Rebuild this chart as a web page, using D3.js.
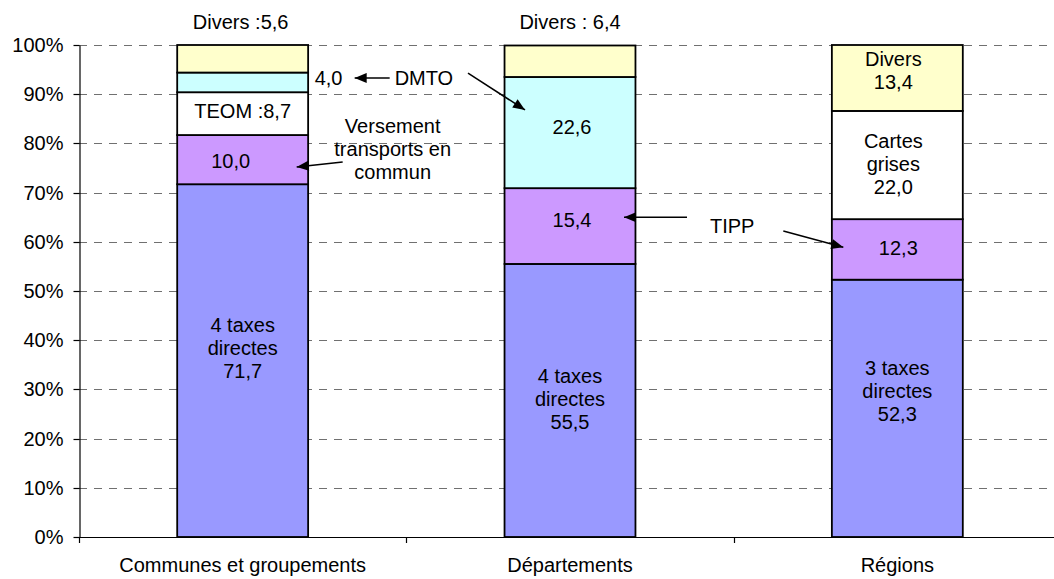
<!DOCTYPE html>
<html>
<head>
<meta charset="utf-8">
<script src="https://cdn.jsdelivr.net/npm/d3@7"></script>
<style>
html,body{margin:0;padding:0;background:#fff;}
svg{display:block;font-family:"Liberation Sans",Arial,sans-serif;}
</style>
</head>
<body>
<svg id="chart" width="1054" height="579"></svg>
<script>
// ---- Data ----
const categories = ["Communes et groupements", "Départements", "Régions"];
const taxesDirectes = [71.7, 55.5, 52.3];
const versementTipp = [10.0, 15.4, 12.3];
const teomCartes = [8.7, 0, 22.0];
const dmto = [4.0, 22.6, 0];
const divers = [5.6, 6.4, 13.4];
const yTickValues = [0, 10, 20, 30, 40, 50, 60, 70, 80, 90, 100];
const seriesNames = ["taxes", "versement", "teom", "dmto", "divers"];

// ---- Styles ----
const colors = {taxes: "#9999FF", versement: "#CC99FF", teom: "#FFFFFF", dmto: "#CCFFFF", divers: "#FFFFCC"};
const FONT = 20;

const svg = d3.select("#chart");
const W = 1054, H = 579;
const x = d3.scaleBand().domain(categories).range([79, 1061]).paddingInner(0.6).paddingOuter(0.3);
const y = d3.scaleLinear().domain([0, 100]).range([537, 45]);
const cx = i => x(categories[i]) + x.bandwidth() / 2;
const crisp = v => Math.round(v) + 0.5;

// gridlines
svg.append("g").selectAll("line").data(yTickValues.filter(v => v > 0)).join("line")
  .attr("x1", 79).attr("x2", W).attr("y1", d => crisp(y(d))).attr("y2", d => crisp(y(d)))
  .attr("stroke", "#707070").attr("stroke-width", 1).attr("stroke-dasharray", "8,7");

// stacked bars
const table = categories.map((c, i) => ({cat: c, taxes: taxesDirectes[i], versement: versementTipp[i], teom: teomCartes[i], dmto: dmto[i], divers: divers[i]}));
const stacked = d3.stack().keys(seriesNames)(table);
const gBars = svg.append("g");
stacked.forEach(layer => {
  gBars.selectAll(null).data(layer.filter(d => d[1] - d[0] > 0)).join("rect")
    .attr("x", d => x(d.data.cat)).attr("width", x.bandwidth())
    .attr("y", d => y(d[1])).attr("height", d => y(d[0]) - y(d[1]))
    .attr("fill", colors[layer.key]).attr("stroke", "#000").attr("stroke-width", 1.8);
});

// y axis
const yAxis = d3.axisLeft(y).tickValues(yTickValues).tickFormat(d => d + "%").tickSize(6).tickSizeOuter(0);
const gy = svg.append("g").attr("transform", "translate(79.5,0)").call(yAxis);
gy.select(".domain").attr("stroke", "#000").attr("stroke-width", 1.2);
gy.selectAll(".tick").attr("transform", d => `translate(0,${crisp(y(d))})`);
gy.selectAll(".tick line").attr("stroke", "#000").attr("stroke-width", 1.2);
gy.selectAll(".tick text").attr("font-size", FONT).attr("fill", "#000").attr("x", -16).attr("font-family", "Liberation Sans, Arial, sans-serif");

// x axis
svg.append("line").attr("x1", 79).attr("x2", W).attr("y1", crisp(y(0))).attr("y2", crisp(y(0))).attr("stroke", "#000").attr("stroke-width", 1.2);
const step = x.step();
const boundaries = [0, 1, 2, 3].map(k => 79 + k * step);
svg.append("g").selectAll("line").data(boundaries).join("line")
  .attr("x1", d => crisp(d)).attr("x2", d => crisp(d)).attr("y1", y(0)).attr("y2", y(0) + 6)
  .attr("stroke", "#000").attr("stroke-width", 1.2);
svg.append("g").selectAll("text").data(categories).join("text")
  .attr("x", (d, i) => cx(i)).attr("y", 572).attr("text-anchor", "middle")
  .attr("font-size", FONT).attr("fill", "#000").text(d => d);

// labels: [catIndex, dx, pct (first baseline), anchor, lines]
const labels = [
  [0, 0, 41.7, "middle", ["4 taxes", "directes", "71,7"]],
  [1, 0, 31.3, "middle", ["4 taxes", "directes", "55,5"]],
  [2, 0, 32.9, "middle", ["3 taxes", "directes", "52,3"]],
  [0, -12, 75.0, "middle", ["10,0"]],
  [0, 0, 85.2, "middle", ["TEOM :8,7"]],
  [0, 72, 91.9, "start", ["4,0"]],
  [0, 152, 91.9, "start", ["DMTO"]],
  [0, -2, 103.3, "middle", ["Divers :5,6"]],
  [1, 0, 103.3, "middle", ["Divers : 6,4"]],
  [1, 2, 81.9, "middle", ["22,6"]],
  [1, 2, 63.0, "middle", ["15,4"]],
  [1, 140, 61.8, "start", ["TIPP"]],
  [2, 1, 57.3, "middle", ["12,3"]],
  [2, -4, 95.7, "middle", ["Divers", "13,4"]],
  [2, -4, 79.1, "middle", ["Cartes", "grises", "22,0"]],
  [0, 150, 82.1, "middle", ["Versement", "transports en", "commun"]]
];
const gLab = svg.append("g");
labels.forEach(([ci, dx, pct, anchor, lines]) => {
  const t = gLab.append("text").attr("text-anchor", anchor).attr("font-size", FONT).attr("fill", "#000");
  lines.forEach((ln, k) => {
    t.append("tspan").attr("x", cx(ci) + dx).attr("y", y(pct) + k * 23).text(ln);
  });
});

// arrows: [catIndex, dx1, pct1, dx2, pct2] (arrowhead at point 2)
const arrows = [
  [0, 147, 93.3, 112, 93.3],
  [1, -102, 94.3, -45, 86.8],
  [0, 100, 76.2, 54, 75.2],
  [1, 117, 65.0, 54, 65.0],
  [2, -114, 62.2, -54, 58.9]
];
svg.append("defs").append("marker").attr("id", "ah")
  .attr("viewBox", "0 0 12 10").attr("refX", 12).attr("refY", 5)
  .attr("markerWidth", 13).attr("markerHeight", 10).attr("markerUnits", "userSpaceOnUse")
  .attr("orient", "auto").append("path").attr("d", "M0,0L12,5L0,10Z").attr("fill", "#000");
svg.append("g").selectAll("line").data(arrows).join("line")
  .attr("x1", d => cx(d[0]) + d[1]).attr("y1", d => y(d[2]))
  .attr("x2", d => cx(d[0]) + d[3]).attr("y2", d => y(d[4]))
  .attr("stroke", "#000").attr("stroke-width", 1.5).attr("marker-end", "url(#ah)");
</script>
</body>
</html>
